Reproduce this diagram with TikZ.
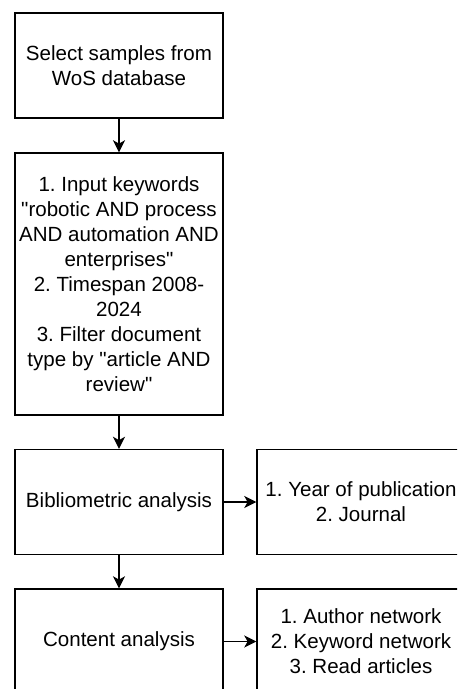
\documentclass[tikz,border=0pt]{standalone}
\usepackage{fontspec}
\setmainfont{Liberation Sans}[Ligatures=TeXOff]
\usetikzlibrary{arrows.meta}
\frenchspacing
\begin{document}
\begin{tikzpicture}[x=0.75pt, y=-0.75pt, line width=1.1pt,
  box/.style={draw, rectangle, minimum width=156pt, align=center, inner sep=2pt,
    font=\fontsize{15.4}{18.7}\selectfont},
  arr/.style={-{Stealth[length=9pt, width=9pt, inset=2.5pt]}}]
\useasboundingbox (0,0) rectangle (457,689);
\clip (0,0) rectangle (457,689);
\node[box, minimum height=78.75pt] (select) at (119,65.5) {Select samples from\\WoS database};
\node[box, minimum height=196.5pt] (search) at (119,284) {1. Input keywords\\"robotic AND process\\AND automation AND\\enterprises"\\2. Timespan 2008-\\2024\\3. Filter document\\type by "article AND\\review"};
\node[box, minimum height=78.75pt] (biblio) at (119,502) {Bibliometric analysis};
\node[box, minimum height=78.75pt] (content) at (119,641.5) {Content analysis};
\node[box, minimum height=78.75pt] (bibliotask) at (361,502) {1. Year of publication\\2. Journal};
\node[box, minimum height=78.75pt] (contenttask) at (361,641.5) {1. Author network\\2. Keyword network\\3. Read articles};
\draw[arr] (select) -- (search);
\draw[arr] (search) -- (biblio);
\draw[arr] (biblio) -- (content);
\draw[arr] (biblio) -- (bibliotask);
\draw[arr] (content) -- (contenttask);
\end{tikzpicture}
\end{document}
